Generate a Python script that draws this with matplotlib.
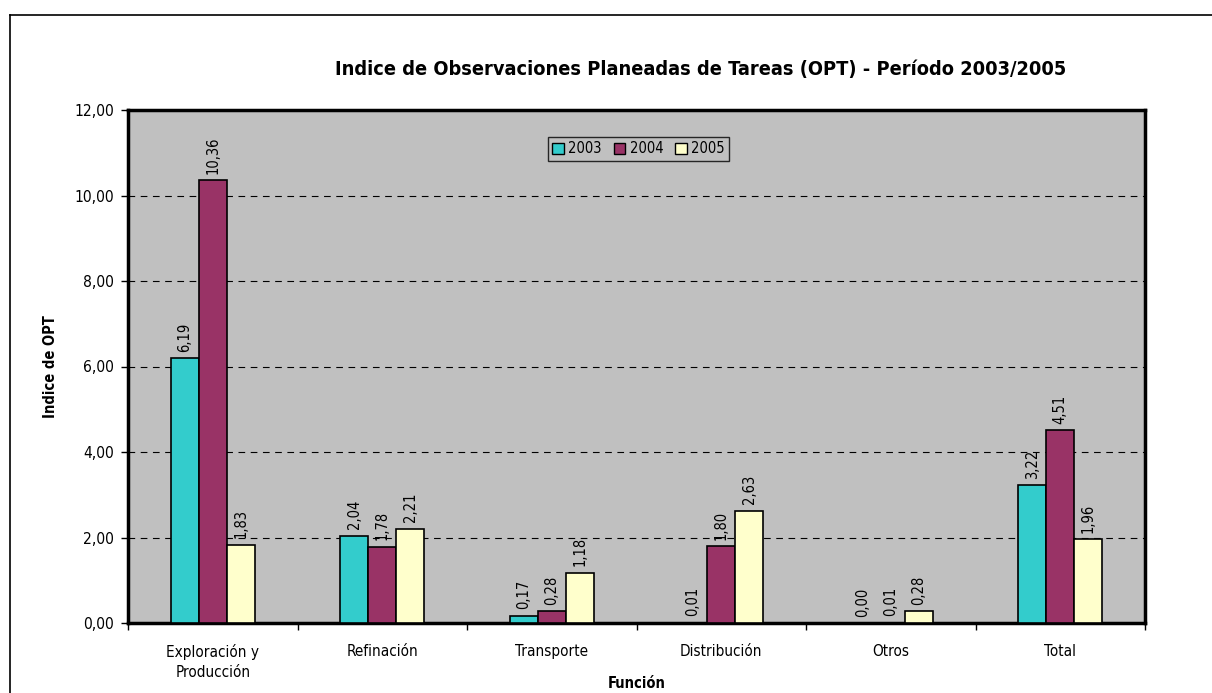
import matplotlib
matplotlib.use("Agg")
import matplotlib.pyplot as plt
import numpy as np
from matplotlib.lines import Line2D
from matplotlib.patches import Patch

plt.rcParams['font.family'] = ['DejaVu Sans']
plt.rcParams['font.stretch'] = 'condensed'

categories = ["Exploración y\nProducción", "Refinación", "Transporte", "Distribución", "Otros", "Total"]
years = ["2003", "2004", "2005"]
v2003 = [6.19, 2.04, 0.17, 0.01, 0.00, 3.22]
v2004 = [10.36, 1.78, 0.28, 1.80, 0.01, 4.51]
v2005 = [1.83, 2.21, 1.18, 2.63, 0.28, 1.96]
series = [v2003, v2004, v2005]
colors = ["#33CCCC", "#993366", "#FFFFCC"]
yticks = [0, 2, 4, 6, 8, 10, 12]

fs = 10.5
fig = plt.figure(figsize=(12.12, 6.93), dpi=100)
ax = fig.add_axes([128/1212, 1-623/693, (1145-128)/1212, (623-110)/693])
ax.set_facecolor("#C0C0C0")

x = np.arange(len(categories))
w = 0.166
for i, (vals, c) in enumerate(zip(series, colors)):
    pos = x + (i - 1) * w
    ax.bar(pos, vals, width=w, color=c, edgecolor="black", linewidth=1.2, zorder=3)
    for p, v in zip(pos, vals):
        ax.text(p, v + 0.15, f"{v:.2f}".replace(".", ","), rotation=90, ha="center",
                va="bottom", fontsize=fs, zorder=4)

ax.set_xlim(-0.5, len(categories) - 0.5)
ax.set_ylim(0, 12)
ax.set_yticks(yticks)
ax.set_yticklabels([f"{t:.2f}".replace(".", ",") for t in yticks], fontsize=11.2)
ax.set_xticks(x)
ax.set_xticklabels(categories, fontsize=11, linespacing=1.45)
ax.tick_params(axis="x", length=0, pad=15)
ax.set_xticks(np.arange(-0.5, len(categories)), minor=True)
ax.tick_params(axis="x", which="minor", length=5, direction="out", width=1)
ax.tick_params(axis="y", length=5, direction="out", width=1, pad=5)
for yv in yticks[1:-1]:
    ax.axhline(yv, color="black", linestyle=(0, (6, 5)), linewidth=0.8, zorder=1)

for s in ax.spines.values():
    s.set_linewidth(2.5)
    s.set_color("black")

ax.set_ylabel("Indice de OPT", fontsize=fs, fontweight="bold", labelpad=12)
ax.set_xlabel("Función", fontsize=fs, fontweight="bold", labelpad=-3)
fig.text(701/1212, 1-70/693, "Indice de Observaciones Planeadas de Tareas (OPT) - Período 2003/2005",
         ha="center", va="center", fontsize=14.3, fontweight="bold")

handles = [Patch(facecolor=c, edgecolor="black", label=y) for c, y in zip(colors, years)]
leg = ax.legend(handles=handles, loc="center", bbox_to_anchor=(0.502, 0.924), ncol=3,
                fontsize=fs, frameon=True, fancybox=False, handlelength=0.8, handleheight=0.8,
                handletextpad=0.3, columnspacing=0.8, borderpad=0.3, facecolor="#C0C0C0",
                edgecolor="black")
leg.get_frame().set_linewidth(1)

fig.add_artist(Line2D([10/1212, 1.0], [1-15/693, 1-15/693], color="black", linewidth=1.2, transform=fig.transFigure))
fig.add_artist(Line2D([10/1212, 10/1212], [0, 1-15/693], color="black", linewidth=1.2, transform=fig.transFigure))

fig.savefig("out.png", dpi=100)
